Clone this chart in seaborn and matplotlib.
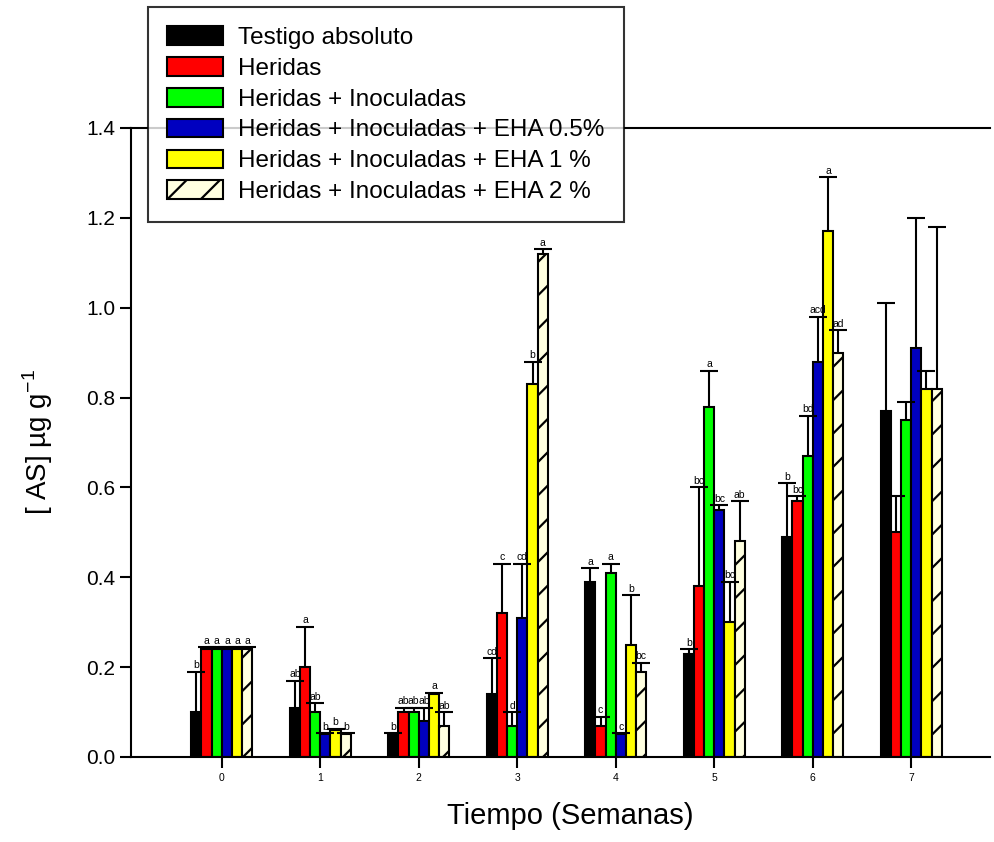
import numpy as np
import pandas as pd
import matplotlib
matplotlib.use('Agg')
import matplotlib.pyplot as plt
from matplotlib.patches import Patch
import seaborn as sns

semanas = ['0', '1', '2', '3', '4', '5', '6', '7']
tratamientos = ['Testigo absoluto', 'Heridas', 'Heridas + Inoculadas',
                'Heridas + Inoculadas + EHA 0.5%', 'Heridas + Inoculadas + EHA 1 %',
                'Heridas + Inoculadas + EHA 2 %']

# media de [AS] por tratamiento (una por semana)
testigo = [0.10, 0.11, 0.05, 0.14, 0.39, 0.23, 0.49, 0.77]
heridas = [0.24, 0.20, 0.10, 0.32, 0.07, 0.38, 0.57, 0.50]
her_ino = [0.24, 0.10, 0.10, 0.07, 0.41, 0.78, 0.67, 0.75]
eha_05 = [0.24, 0.05, 0.08, 0.31, 0.05, 0.55, 0.88, 0.91]
eha_1 = [0.24, 0.06, 0.14, 0.83, 0.25, 0.30, 1.17, 0.82]
eha_2 = [0.24, 0.05, 0.07, 1.12, 0.19, 0.48, 0.90, 0.82]

# error (solo hacia arriba)
err_testigo = [0.09, 0.06, 0.003, 0.08, 0.03, 0.01, 0.12, 0.24]
err_heridas = [0.005, 0.09, 0.01, 0.11, 0.02, 0.22, 0.01, 0.08]
err_her_ino = [0.005, 0.02, 0.01, 0.03, 0.02, 0.08, 0.09, 0.04]
err_eha_05 = [0.005, 0.003, 0.03, 0.12, 0.003, 0.01, 0.10, 0.29]
err_eha_1 = [0.005, 0.003, 0.003, 0.05, 0.11, 0.09, 0.12, 0.04]
err_eha_2 = [0.005, 0.003, 0.03, 0.01, 0.02, 0.09, 0.05, 0.36]

# letras de significancia
let_testigo = ['b', 'ab', 'b', 'cd', 'a', 'b', 'b', '']
let_heridas = ['a', 'a', 'ab', 'c', 'c', 'bc', 'bc', '']
let_her_ino = ['a', 'ab', 'ab', 'd', 'a', 'a', 'bd', '']
let_eha_05 = ['a', 'b', 'ab', 'cd', 'c', 'bc', 'acd', '']
let_eha_1 = ['a', 'b', 'a', 'b', 'b', 'bc', 'a', '']
let_eha_2 = ['a', 'b', 'ab', 'a', 'bc', 'ab', 'ad', '']

colores = ['#000000', '#FF0000', '#00FF00', '#0000C0', '#FFFF00', '#FFFFE0']

medias = [testigo, heridas, her_ino, eha_05, eha_1, eha_2]
errores = [err_testigo, err_heridas, err_her_ino, err_eha_05, err_eha_1, err_eha_2]
letras = [let_testigo, let_heridas, let_her_ino, let_eha_05, let_eha_1, let_eha_2]

filas = []
for t, vals in zip(tratamientos, medias):
    for s, v in zip(semanas, vals):
        filas.append({'semana': s, 'AS': v, 'tratamiento': t})
df = pd.DataFrame(filas)

sns.set_style('white')
plt.rcParams['font.family'] = ['Liberation Sans', 'DejaVu Sans']
plt.rcParams['mathtext.fontset'] = 'custom'
plt.rcParams['mathtext.rm'] = 'Liberation Sans'
plt.rcParams['hatch.linewidth'] = 1.6
for k in ['text.color', 'axes.labelcolor', 'xtick.color', 'ytick.color']:
    plt.rcParams[k] = 'black'

fig = plt.figure(figsize=(9.94, 8.42), dpi=100)
ax = fig.add_axes([0.132, 0.101, 0.864, 0.747])

sns.barplot(data=df, x='semana', y='AS', hue='tratamiento', order=semanas,
            hue_order=tratamientos, palette=dict(zip(tratamientos, colores)),
            width=0.62, edgecolor='black', linewidth=1.5, errorbar=None,
            saturation=1, legend=False, ax=ax)

barras = list(ax.containers)
for i, cont in enumerate(barras):
    for j, bar in enumerate(cont.patches):
        if i == 5:
            bar.set_hatch('/')
        xc = bar.get_x() + bar.get_width() / 2
        h = bar.get_height()
        e = errores[i][j]
        eb = ax.errorbar(xc, h, yerr=[[0], [e]], fmt='none', ecolor='black',
                         elinewidth=1.5, capsize=6.5, capthick=1.5, zorder=3)
        eb[1][0].set_visible(False)  # sin tapa inferior
        if letras[i][j]:
            ax.text(xc, h + e + 0.003, letras[i][j], ha='center', va='bottom',
                    fontsize=7.5)

ax.set_xlim(-0.92, 7.8)
ax.set_ylim(0, 1.4)
ax.set_yticks(np.arange(0, 1.41, 0.2))
ax.set_yticklabels([f'{v:.1f}' for v in np.arange(0, 1.41, 0.2)])
ax.tick_params(axis='y', labelsize=15, length=8, width=1.5, direction='out', left=True)
ax.tick_params(axis='x', labelsize=7.5, length=8, width=1.5, direction='out', bottom=True)
for side in ['left', 'bottom', 'top']:
    ax.spines[side].set_linewidth(1.5)
    ax.spines[side].set_color('black')
ax.spines['right'].set_visible(False)

ax.set_xlabel('Tiempo (Semanas)', fontsize=21, labelpad=14)
ax.xaxis.label.set_x(0.511)
ax.set_ylabel('[ AS] µg g$^{-1}$', fontsize=20, labelpad=22)

handles = []
for t, c in zip(tratamientos, colores):
    handles.append(Patch(facecolor=c, edgecolor='black', linewidth=1.5,
                         hatch='/' if t.endswith('2 %') else None, label=t))
leg = fig.legend(handles=handles, loc='upper left', bbox_to_anchor=(148 / 994, 1 - 7 / 842),
                 fontsize=17.5, frameon=True, fancybox=False, borderaxespad=0,
                 handlelength=2.3, handleheight=0.8, handletextpad=0.6,
                 labelspacing=0.33, borderpad=0.8)
leg.get_frame().set_edgecolor('black')
leg.get_frame().set_linewidth(1.5)

fig.savefig('out.png', dpi=100)
